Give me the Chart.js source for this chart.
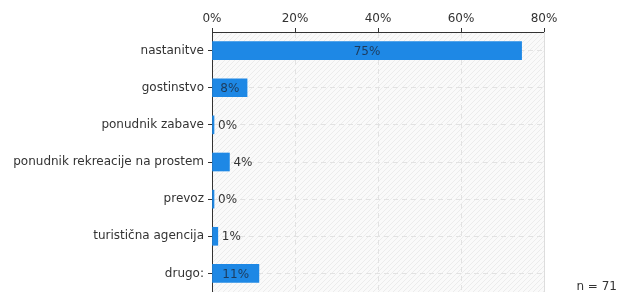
<!DOCTYPE html>
<html>
<head>
<meta charset="utf-8">
<script src="https://cdn.jsdelivr.net/npm/chart.js@4/dist/chart.umd.min.js"></script>
<style>
  html, body { margin: 0; padding: 0; background: #fff; }
  #wrap { width: 620px; height: 292px; }
</style>
</head>
<body>
<div id="wrap"><canvas id="c" width="620" height="292"></canvas></div>
<script>
const categories = ['nastanitve', 'gostinstvo', 'ponudnik zabave', 'ponudnik rekreacije na prostem', 'prevoz', 'turistična agencija', 'drugo:'];
const percents = [74.6, 8.45, 0, 4.2, 0, 1.4, 11.3];
const xTicks = [0, 20, 40, 60, 80];
const sampleSize = 71;

const FONT = 'DejaVu Sans, Verdana, sans-serif';

// light diagonal hatch behind the plot
const hatchPlugin = {
  id: 'hatch',
  beforeDraw(chart) {
    const { ctx, chartArea: a } = chart;
    const tile = document.createElement('canvas');
    tile.width = 5; tile.height = 5;
    const t = tile.getContext('2d');
    t.fillStyle = '#fafafa';
    t.fillRect(0, 0, 5, 5);
    t.strokeStyle = '#ececec';
    t.lineWidth = 1;
    t.beginPath();
    t.moveTo(0, 5); t.lineTo(5, 0);
    t.moveTo(-1, 1); t.lineTo(1, -1);
    t.moveTo(4, 6); t.lineTo(6, 4);
    t.stroke();
    ctx.save();
    ctx.fillStyle = ctx.createPattern(tile, 'repeat');
    ctx.fillRect(a.left, a.top, a.right - a.left, a.bottom - a.top);
    ctx.restore();
  },
  beforeDatasetsDraw(chart) {
    // solid edge at the max of the x scale
    const { ctx, chartArea: a, scales } = chart;
    const x = Math.round(scales.x.getPixelForValue(scales.x.max)) + 0.5;
    ctx.save();
    ctx.strokeStyle = '#dddddd';
    ctx.lineWidth = 1;
    ctx.beginPath();
    ctx.moveTo(x, a.top);
    ctx.lineTo(x, a.bottom);
    ctx.stroke();
    ctx.restore();
  }
};

// value labels: inside the bar when it fits, otherwise right of it
const valueLabels = {
  id: 'valueLabels',
  afterDatasetsDraw(chart) {
    const { ctx } = chart;
    const meta = chart.getDatasetMeta(0);
    ctx.save();
    ctx.font = '12px ' + FONT;
    ctx.textBaseline = 'middle';
    meta.data.forEach((bar, i) => {
      const txt = Math.round(percents[i]) + '%';
      const w = ctx.measureText(txt).width;
      const len = bar.x - bar.base;
      if (len > w + 8) {
        ctx.fillStyle = '#1d3b5c';
        ctx.textAlign = 'center';
        ctx.fillText(txt, bar.base + len / 2, bar.y + 1);
      } else {
        ctx.fillStyle = '#333';
        ctx.textAlign = 'left';
        ctx.fillText(txt, bar.x + 4, bar.y + 1);
      }
    });
    ctx.font = '12px ' + FONT;
    ctx.fillStyle = '#333';
    ctx.textAlign = 'right';
    ctx.textBaseline = 'alphabetic';
    ctx.fillText('n = ' + sampleSize, 617, 290);
    ctx.restore();
  }
};

new Chart(document.getElementById('c'), {
  type: 'bar',
  data: {
    labels: categories,
    datasets: [{
      data: percents,
      backgroundColor: '#1e88e5',
      borderWidth: 0,
      barThickness: 18,
      minBarLength: 2
    }]
  },
  options: {
    indexAxis: 'y',
    responsive: false,
    animation: false,
    layout: { padding: { top: 0, right: 76, bottom: 0, left: 0 } },
    scales: {
      x: {
        position: 'top',
        min: 0,
        max: 80,
        afterFit: (s) => { s.height = 32; s.paddingLeft = 0; s.paddingRight = 0; },
        afterBuildTicks: (s) => { s.ticks = xTicks.map(v => ({ value: v })); },
        ticks: {
          callback: (v) => v + '%',
          font: { family: FONT, size: 12 },
          color: '#333',
          padding: 2,
          maxRotation: 0
        },
        grid: {
          color: (c) => (c.tick && c.tick.value === 80) ? 'rgba(0,0,0,0)' : '#e2e2e2',
          tickColor: '#333',
          tickLength: 4,
          lineWidth: 1
        },
        border: { display: true, color: '#333', width: 1, dash: [5, 4] }
      },
      y: {
        afterFit: (s) => { s.width = 212; s.paddingTop = 0; s.paddingBottom = 0; },
        ticks: {
          font: { family: FONT, size: 12 },
          color: '#333',
          padding: 4
        },
        grid: {
          offset: false,
          color: '#e2e2e2',
          tickColor: '#333',
          tickLength: 4,
          lineWidth: 1
        },
        border: { display: true, color: '#333', width: 1, dash: [5, 4] }
      }
    },
    plugins: {
      legend: { display: false },
      tooltip: { enabled: false },
      title: { display: false }
    }
  },
  plugins: [hatchPlugin, valueLabels]
});
</script>
</body>
</html>
